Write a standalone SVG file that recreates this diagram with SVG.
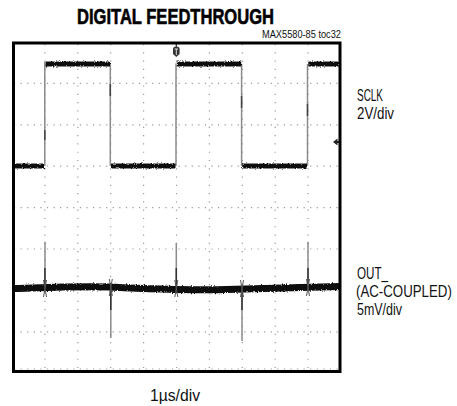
<svg xmlns="http://www.w3.org/2000/svg" width="457" height="406" viewBox="0 0 457 406">
<style>
.lbl{font-family:"Liberation Sans Narrow","Liberation Sans",Arial,sans-serif;font-size:16px;fill:#111}
.title{font-family:"Liberation Sans Narrow","Liberation Sans",Arial,sans-serif;font-weight:bold;font-size:22px;fill:#000;stroke:#000;stroke-width:0.6}
.small{font-family:"Liberation Sans Narrow","Liberation Sans",Arial,sans-serif;font-size:11px;fill:#111}
.gh{stroke:#9a9a9a;stroke-width:1.2;stroke-dasharray:1.2 5.38;fill:none}
.gv{stroke:#9a9a9a;stroke-width:1.2;stroke-dasharray:1.2 7.08;fill:none}
.edge{stroke:#8a8a8a;stroke-width:1.5;fill:none}
.trace{stroke:#111;fill:none}
</style>
<defs>
<filter id="noise" filterUnits="userSpaceOnUse" x="0" y="0" width="457" height="406">
<feTurbulence type="fractalNoise" baseFrequency="0.9 0.7" numOctaves="2" seed="4"/>
<feDisplacementMap in="SourceGraphic" scale="3" xChannelSelector="R" yChannelSelector="G"/>
</filter>
</defs>
<rect width="457" height="406" fill="#fff"/>
<g id="title">
<text class="title" x="77" y="24" textLength="197" lengthAdjust="spacingAndGlyphs">DIGITAL FEEDTHROUGH</text>
<text class="small" x="341" y="38" text-anchor="end" textLength="79" lengthAdjust="spacingAndGlyphs">MAX5580-85 toc32</text>
</g>
<g id="grid">
<line class="gh" x1="14" y1="83.4" x2="340" y2="83.4"/>
<line class="gh" x1="14" y1="124.8" x2="340" y2="124.8"/>
<line class="gh" x1="14" y1="166.2" x2="340" y2="166.2"/>
<line class="gh" x1="14" y1="207.6" x2="340" y2="207.6"/>
<line class="gh" x1="14" y1="249" x2="340" y2="249"/>
<line class="gh" x1="14" y1="290.4" x2="340" y2="290.4"/>
<line class="gh" x1="14" y1="331.8" x2="340" y2="331.8"/>
<line class="gh" x1="14" y1="369" x2="340" y2="369"/>
<line class="gv" x1="44.9" y1="44" x2="44.9" y2="372"/>
<line class="gv" x1="77.8" y1="44" x2="77.8" y2="372"/>
<line class="gv" x1="110.7" y1="44" x2="110.7" y2="372"/>
<line class="gv" x1="143.6" y1="44" x2="143.6" y2="372"/>
<line class="gv" x1="176.5" y1="44" x2="176.5" y2="372"/>
<line class="gv" x1="209.4" y1="44" x2="209.4" y2="372"/>
<line class="gv" x1="242.3" y1="44" x2="242.3" y2="372"/>
<line class="gv" x1="275.2" y1="44" x2="275.2" y2="372"/>
<line class="gv" x1="308.1" y1="44" x2="308.1" y2="372"/>
</g>
<g id="sclk">
<path class="edge" d="M44.8,166 V64 M110.3,64 V166 M176,166 V64 M241.6,64 V166 M307.5,166 V64"/>
<path stroke="#444" stroke-width="1.5" fill="none" d="M44.8,130 V140 M110.3,84 V96 M241.6,96 V108 M307.5,104 V116"/>
<g filter="url(#noise)">
<path class="trace" stroke-width="5" d="M14,166 H44 M45.5,64 H110 M111,166 H175.5 M176.8,64 H241.2 M242.2,166 H307 M308.3,64 H339"/>
</g>
</g>
<g id="out">
<path class="edge" d="M45,287 V241.7 M110.8,289 V338 M176.3,287 V243 M242,289 V341 M308,287 V241.7"/>
<path stroke="#333" stroke-width="1.5" fill="none" d="M44.9,268 V288 M110.8,288 V310 M176.3,268 V288 M242,288 V310 M308,268 V288"/>
<g filter="url(#noise)">
<path class="trace" stroke-width="7" d="M14,288.5 C60,287 80,286 110,287 C150,289 200,291 245,289 C280,288 310,287 339,286.5"/>
</g>
<path stroke="#555" stroke-width="1" fill="none" d="M43.5,280 L46.5,297 M46.5,280 L43.5,297 M109.3,279 L112.3,296 M112.3,279 L109.3,296 M174.8,280 L177.8,297 M177.8,280 L174.8,297 M240.5,280 L243.5,297 M243.5,280 L240.5,297 M306.5,279 L309.5,296 M309.5,279 L306.5,296"/>
</g>
<g id="markers">
<line x1="176.3" y1="42" x2="176.3" y2="47" stroke="#333" stroke-width="1.2"/>
<path d="M173,49 Q173,46.5 176.3,46.5 Q179.6,46.5 179.6,49 V54 L176.3,57 L173,54 Z" fill="#333"/>
<path d="M174.6,49 H178 M176.3,49 V55" stroke="#ddd" stroke-width="1"/>
<path d="M333,142 L337.5,138.5 V145.5 Z" fill="#222"/>
<rect x="337" y="141" width="2.5" height="2" fill="#222"/>
</g>
<rect id="frame" x="13.5" y="43" width="326.5" height="328.5" fill="none" stroke="#000" stroke-width="3"/>
<g id="labels">
<text class="lbl" x="357" y="101" textLength="26" lengthAdjust="spacingAndGlyphs">SCLK</text>
<text class="lbl" x="357" y="119" textLength="37" lengthAdjust="spacingAndGlyphs">2V/div</text>
<text class="lbl" x="357" y="279" textLength="31" lengthAdjust="spacingAndGlyphs">OUT_</text>
<text class="lbl" x="0" y="0" transform="translate(356,297) scale(0.83,1)">(AC-COUPLED)</text>
<text class="lbl" x="357" y="315" textLength="45" lengthAdjust="spacingAndGlyphs">5mV/div</text>
<text class="lbl" x="150" y="401" textLength="50" lengthAdjust="spacingAndGlyphs">1µs/div</text>
</g>
</svg>
